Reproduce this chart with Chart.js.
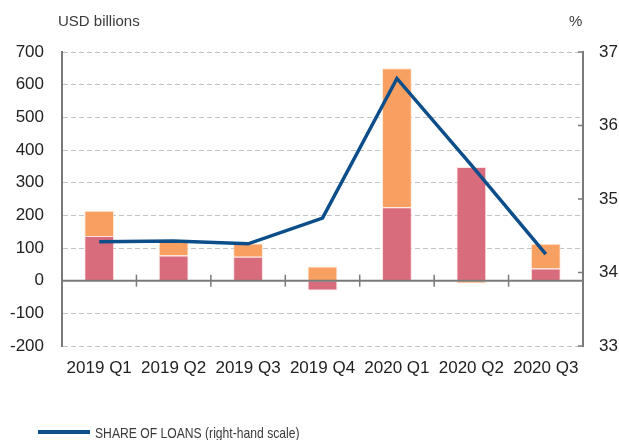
<!DOCTYPE html>
<html>
<head>
<meta charset="utf-8">
<script src="https://cdn.jsdelivr.net/npm/chart.js@4/dist/chart.umd.min.js"></script>
<style>
  html, body { margin: 0; padding: 0; background: #fff; }
  #wrap { position: relative; width: 619px; height: 440px; overflow: hidden; }
  canvas { position: absolute; left: 0; top: 0; }
  .txt { position: absolute; font-family: "Liberation Sans", Arial, sans-serif; font-size: 15px; line-height: 15px; color: #3a3a3a; white-space: nowrap; }
  #legLine { position: absolute; left: 38px; top: 430px; width: 52px; height: 4px; background: #0c4e8a; }
  #legText { left: 95px; top: 425px; transform: scaleX(0.81); transform-origin: left center; }
</style>
</head>
<body>
<div id="wrap">
  <canvas id="c" width="619" height="440"></canvas>
  <div class="txt" style="left:58px; top:13px;">USD billions</div>
  <div class="txt" style="left:569px; top:13px;">%</div>
  <div id="legLine"></div>
  <div class="txt" id="legText">SHARE OF LOANS (right-hand scale)</div>
</div>
<script>
// ---- data ----
const categories = ["2019 Q1", "2019 Q2", "2019 Q3", "2019 Q4", "2020 Q1", "2020 Q2", "2020 Q3"];
const seriesRed = [137, 77, 73, -30, 225, 348, 37];      // USD billions
const seriesOrange = [77, 42, 41, 43, 425, -9, 76];      // USD billions
const shareOfLoans = [34.42, 34.43, 34.39, 34.74, 36.64, 35.46, 34.25]; // %
const leftTicks = { min: -200, max: 700, step: 100 };
const rightTicks = { min: 33, max: 37, step: 1 };

const AXIS_GREY = '#7a7a7a';
const FONT = { family: '"Liberation Sans", Arial, sans-serif', size: 17 };

const overlay = {
  id: 'overlay',
  afterDatasetsDraw(chart) {
    const ctx = chart.ctx;
    const x = chart.scales.x, y = chart.scales.y, y1 = chart.scales.y1;
    const area = chart.chartArea;
    const y0 = y.getPixelForValue(0);
    ctx.save();
    // zero line
    ctx.strokeStyle = AXIS_GREY;
    ctx.lineWidth = 2;
    ctx.beginPath();
    ctx.moveTo(area.left, y0);
    ctx.lineTo(area.right, y0);
    ctx.stroke();
    // category boundary ticks on zero line
    ctx.lineWidth = 1.5;
    for (let i = 1; i < categories.length; i++) {
      const bx = (x.getPixelForTick(i - 1) + x.getPixelForTick(i)) / 2;
      ctx.beginPath();
      ctx.moveTo(bx, y0 - 6);
      ctx.lineTo(bx, y0 + 6);
      ctx.stroke();
    }
    // inner ticks on right axis
    ctx.lineWidth = 1.5;
    y1.ticks.forEach(t => {
      const ty = y1.getPixelForValue(t.value);
      ctx.beginPath();
      ctx.moveTo(area.right - 5, ty);
      ctx.lineTo(area.right, ty);
      ctx.stroke();
    });
    ctx.restore();
  }
};

new Chart(document.getElementById('c'), {
  data: {
    labels: categories,
    datasets: [
      {
        type: 'line',
        label: 'SHARE OF LOANS (right-hand scale)',
        data: shareOfLoans,
        yAxisID: 'y1',
        borderColor: '#0c4e8a',
        borderWidth: 3.5,
        pointRadius: 0,
        tension: 0,
        order: 0
      },
      {
        type: 'bar',
        label: 'Series 1',
        data: seriesRed,
        yAxisID: 'y',
        backgroundColor: '#d96c7c',
        borderColor: 'rgba(255,215,215,0.7)',
        borderWidth: 1,
        barPercentage: 0.4,
        categoryPercentage: 1,
        stack: 's',
        order: 1
      },
      {
        type: 'bar',
        label: 'Series 2',
        data: seriesOrange,
        yAxisID: 'y',
        backgroundColor: '#f8a061',
        borderColor: 'rgba(255,225,200,0.7)',
        borderWidth: 1,
        barPercentage: 0.4,
        categoryPercentage: 1,
        stack: 's',
        order: 1
      }
    ]
  },
  options: {
    responsive: false,
    animation: false,
    devicePixelRatio: 1,
    layout: { padding: { top: 52, bottom: 54, left: 0, right: 0 } },
    plugins: { legend: { display: false }, tooltip: { enabled: false } },
    scales: {
      x: {
        stacked: true,
        grid: { display: false, drawTicks: false },
        border: { display: false },
        ticks: { font: FONT, color: '#222', padding: 12, maxRotation: 0, autoSkip: false },
        afterFit(s) { s.height = 40; }
      },
      y: {
        stacked: true,
        position: 'left',
        min: leftTicks.min, max: leftTicks.max,
        ticks: { stepSize: leftTicks.step, font: FONT, color: '#222', padding: 18 },
        grid: {
          drawTicks: false,
          color: c => (c.tick && c.tick.value === 0) ? 'rgba(0,0,0,0)' : '#c4c4c4',
          lineWidth: 1
        },
        border: { display: true, color: AXIS_GREY, width: 2, dash: [5, 3] },
        afterFit(s) { s.width = 62; }
      },
      y1: {
        position: 'right',
        min: rightTicks.min, max: rightTicks.max,
        ticks: { stepSize: rightTicks.step, font: FONT, color: '#222', padding: 16 },
        grid: { drawOnChartArea: false, drawTicks: false },
        border: { display: true, color: AXIS_GREY, width: 2 },
        afterFit(s) { s.width = 36; }
      }
    }
  },
  plugins: [overlay]
});
</script>
</body>
</html>
